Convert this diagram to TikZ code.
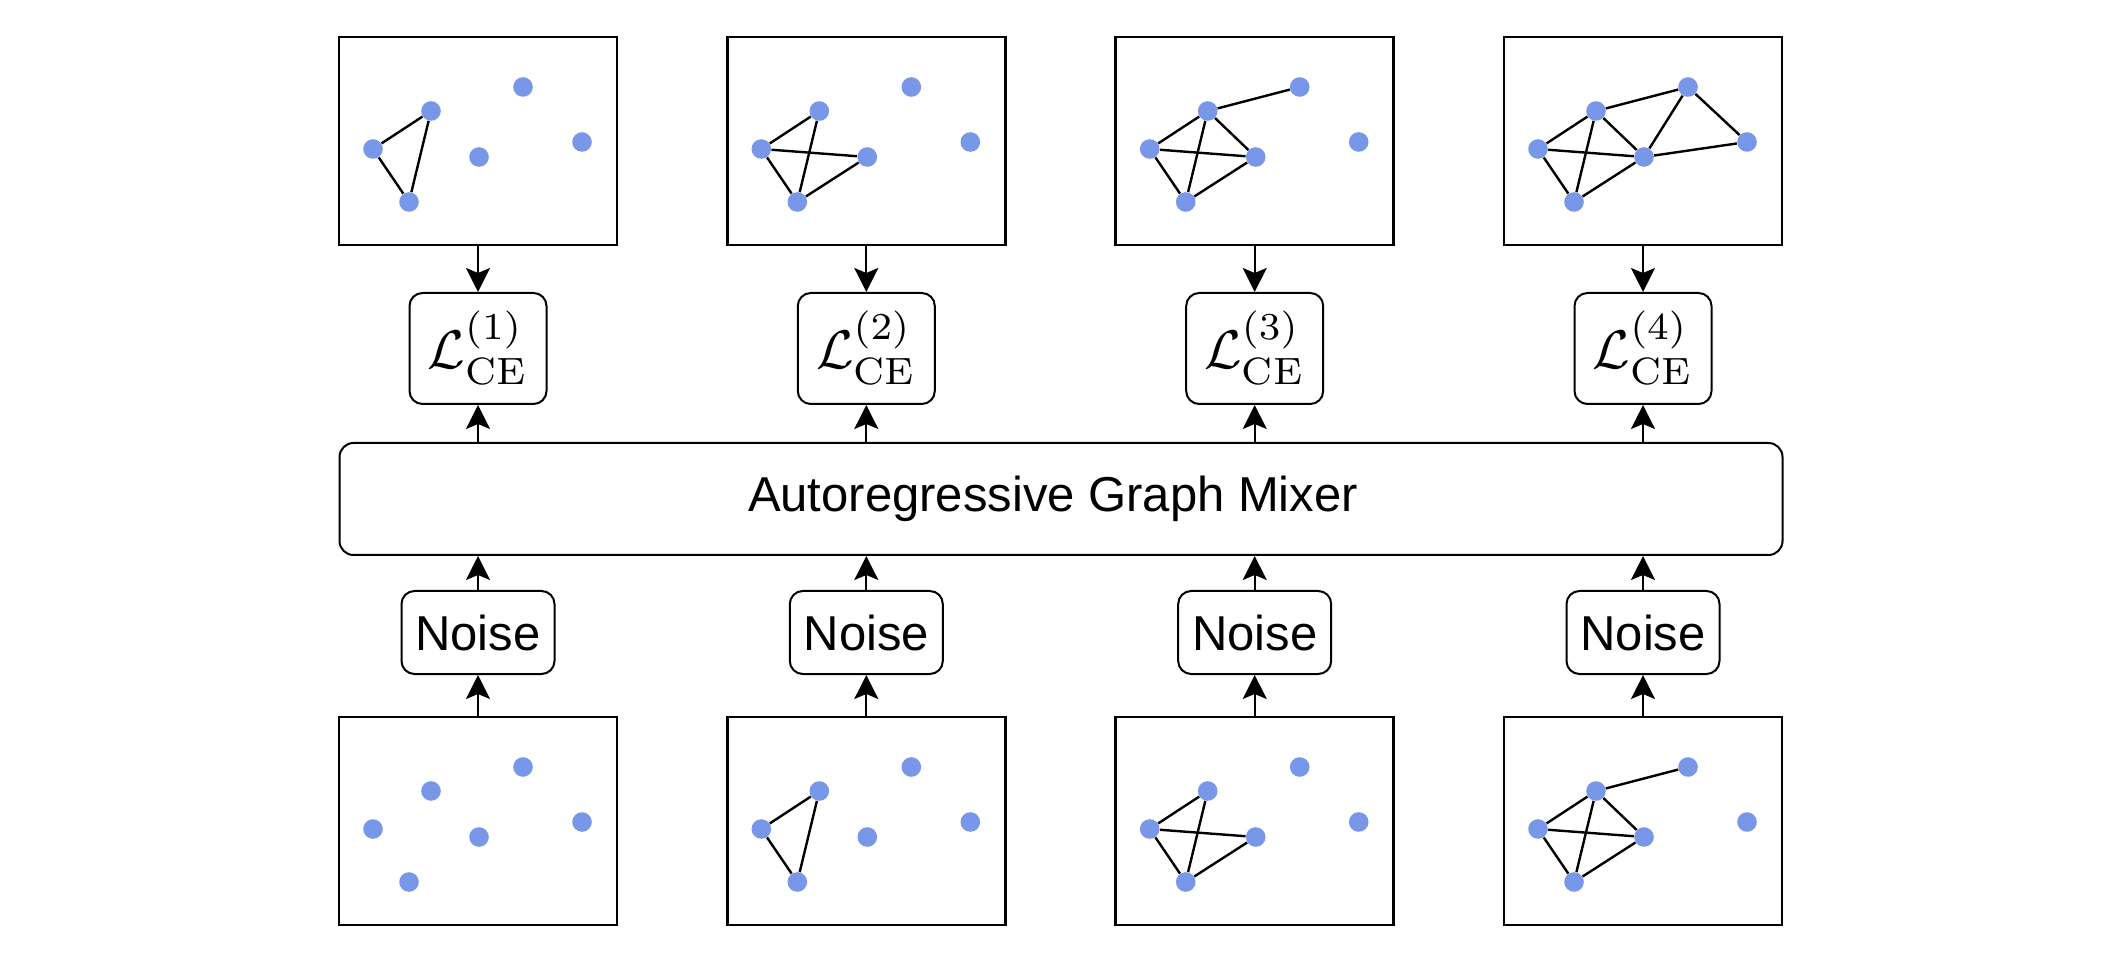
\RequirePackage{fix-cm}
\documentclass[tikz,border=0pt]{standalone}
\usepackage{amsmath}
\usepackage{fontspec}
\newfontfamily\arialfont{Liberation Sans}
\usetikzlibrary{arrows.meta}
\definecolor{nodeblue}{RGB}{120,151,232}
\tikzset{
  graphbox/.style={draw, line width=1.3pt, minimum width=139pt, minimum height=104pt, inner sep=0pt},
  gnode/.style={circle, fill=nodeblue, minimum size=9.8pt, inner sep=0pt},
  gedge/.style={line width=1.2pt},
  lossbox/.style={draw, line width=1pt, rounded corners=6.5pt, minimum width=68.5pt, minimum height=55.5pt, inner sep=0pt, font=\fontsize{10}{12}\selectfont},
  noisebox/.style={draw, line width=1pt, rounded corners=6.5pt, minimum width=76.5pt, minimum height=41.5pt, inner sep=0pt, font=\arialfont\fontsize{24.5}{29}\selectfont},
  mixerbox/.style={draw, line width=1pt, rounded corners=7pt, minimum width=721.5pt, minimum height=56pt, inner sep=0pt, font=\arialfont\fontsize{24.5}{29}\selectfont},
  arr/.style={line width=1pt, -{Stealth[length=12pt,width=12pt,inset=2.5pt]}},
}
\newcommand{\lossexpr}[1]{\scalebox{2.72}{$\mathcal{L}_{\mathrm{CE}}^{(#1)}$}}
\newcommand{\graphpanel}[2]{%
  \node[graphbox] (#1) at (#2) {};
  \begin{scope}[shift={(#2)}]
    \node[gnode] (#1A) at (-105,8) {};
    \node[gnode] (#1B) at (-47,-30) {};
    \node[gnode] (#1C) at (-69,61) {};
    \node[gnode] (#1D) at (1,16) {};
    \node[gnode] (#1E) at (45,-54) {};
    \node[gnode] (#1F) at (104,1) {};
  \end{scope}}
\newcommand{\graphedges}[2]{%
  \foreach \u/\v in #2 {\draw[gedge] (#1\u) -- (#1\v);}}
\def\edgesone{A/B,A/C,B/C}
\def\edgestwo{A/B,A/C,B/C,A/D,C/D}
\def\edgesthree{A/B,A/C,B/C,A/D,C/D,B/D,B/E}
\def\edgesfour{A/B,A/C,B/C,A/D,C/D,B/D,B/E,D/E,E/F,D/F}
\begin{document}
\begin{tikzpicture}[x=0.5pt,y=-0.5pt]
\useasboundingbox (0,0) rectangle (2125,967);
% mixer
\node[mixerbox] (M) at (1061,499) {Autoregressive Graph Mixer\hspace*{8pt}};
% columns
\graphpanel{t1}{478,141}
\graphpanel{t2}{866.3,141}
\graphpanel{t3}{1254.7,141}
\graphpanel{t4}{1643,141}
\graphpanel{b1}{478,821}
\graphpanel{b2}{866.3,821}
\graphpanel{b3}{1254.7,821}
\graphpanel{b4}{1643,821}
\graphedges{t1}{\edgesone}
\graphedges{t2}{\edgestwo}
\graphedges{t3}{\edgesthree}
\graphedges{t4}{\edgesfour}
\graphedges{b2}{\edgesone}
\graphedges{b3}{\edgestwo}
\graphedges{b4}{\edgesthree}
\node[lossbox] (L1) at (478,348.5) {\lossexpr{1}};
\node[lossbox] (L2) at (866.3,348.5) {\lossexpr{2}};
\node[lossbox] (L3) at (1254.7,348.5) {\lossexpr{3}};
\node[lossbox] (L4) at (1643,348.5) {\lossexpr{4}};
\node[noisebox] (N1) at (478,632.5) {Noise};
\node[noisebox] (N2) at (866.3,632.5) {Noise};
\node[noisebox] (N3) at (1254.7,632.5) {Noise};
\node[noisebox] (N4) at (1643,632.5) {Noise};
\foreach \i in {1,2,3,4} {
  \draw[arr] (t\i.south) -- (L\i.north);
  \draw[arr] (L\i.south |- M.north) -- (L\i.south);
  \draw[arr] (N\i.north) -- (N\i.north |- M.south);
  \draw[arr] (b\i.north) -- (N\i.south);
}
\end{tikzpicture}
\end{document}
